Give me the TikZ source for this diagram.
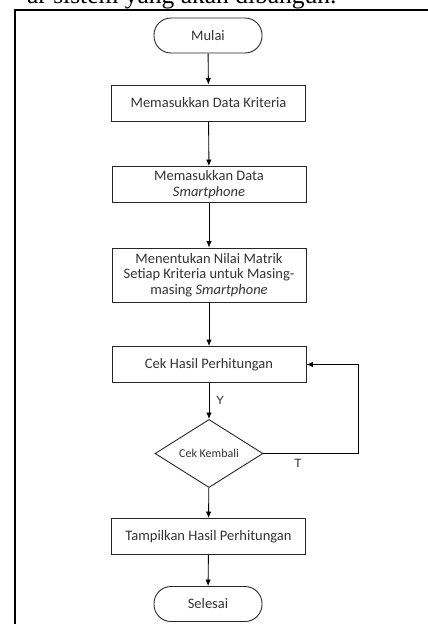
\documentclass[tikz,border=0pt]{standalone}
\usepackage{fontspec}
\setmainfont{Carlito}
\newfontfamily\judulfont{Liberation Serif}
\newfontfamily\labelfont{Liberation Sans}
\usetikzlibrary{shapes.geometric,arrows.meta}

\begin{document}
\begin{tikzpicture}[x=1pt,y=-1pt,>={Latex[length=6.5pt,width=5.5pt]},line width=0.9pt,
	proses/.style={draw=black!85, minimum width=194pt, minimum height=36pt, inner sep=2pt, align=center, text=black!80, font=\fontsize{14.5}{15.5}\selectfont},
	terminal/.style={draw=black!85, rounded corners=17pt, minimum width=108pt, minimum height=35pt, inner sep=2pt, text=black!80, font=\fontsize{14.5}{15.5}\selectfont},
	keputusan/.style={draw=black!85, diamond, minimum width=108pt, minimum height=67pt, inner sep=0pt, text=black!80, font=\fontsize{12}{14}\selectfont},
	cabang/.style={text=black!85, inner sep=0pt, font=\labelfont\fontsize{12}{14}\selectfont}]
		\useasboundingbox (0,0) rectangle (428,624);
		\begin{scope}
		\clip (0,0) rectangle (428,624);
		%Teks halaman
		\node [anchor=base east, inner sep=0pt, font=\judulfont\fontsize{25.5}{30}\selectfont] (judul) at (337,3.5) {ar sistem yang akan dibangun.};
		%Bingkai
		\draw [line width=2pt] (15,630) -- (15,10) -- (440,10);
		\end{scope}
		%Langkah
		\node [terminal] (mulai) at (208,35.5) {Mulai};
		\node [proses] (kriteria) at (208.5,103) {Memasukkan Data Kriteria};
		\node [proses] (smartphone) at (209,184.5) {Memasukkan Data\\\textit{Smartphone}};
		\node [proses, minimum height=54pt] (matrik) at (209,275) {Menentukan Nilai Matrik\\Setiap Kriteria untuk Masing-\\masing \textit{Smartphone}};
		\node [proses] (cek) at (209,364.5) {Cek Hasil Perhitungan};
		\node [keputusan] (kembali) at (209,453.5) {Cek Kembali};
		\node [proses] (tampil) at (208.5,536.5) {Tampilkan Hasil Perhitungan};
		\node [terminal] (selesai) at (208,604) {Selesai};
		%Panah
		\draw [->] (mulai) -- (kriteria);
		\draw [->] (kriteria) -- (smartphone);
		\draw [->] (smartphone) -- (matrik);
		\draw [->] (matrik) -- (cek);
		\draw [->] (cek) -- (kembali);
		\draw [->] (kembali) -- (tampil);
		\draw [->] (tampil) -- (selesai);
		\coordinate (belok) at (358,453.5);
		\draw [->] (kembali.east) -- (belok) |- (cek.east);
		%Label
		\node [cabang] (ya) at (220,400) {Y};
		\node [cabang] (tidak) at (298,463) {T};
\end{tikzpicture}
\end{document}
